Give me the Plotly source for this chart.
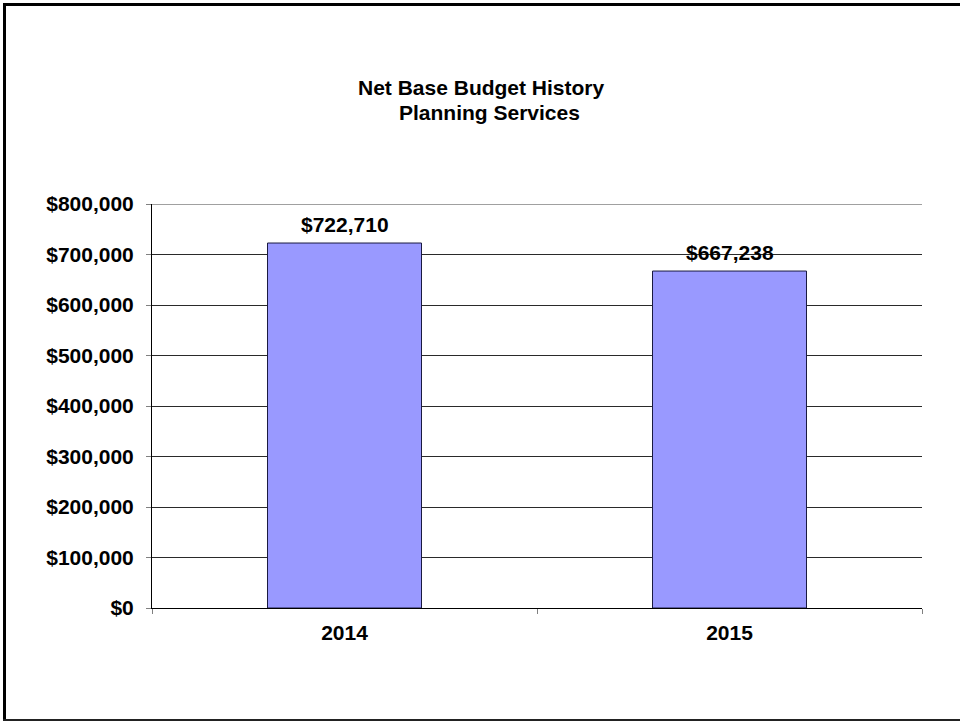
import plotly.graph_objects as go

# Budget data
years = ["2014", "2015"]
budget = [722710, 667238]
y_ticks = [0, 100000, 200000, 300000, 400000, 500000, 600000, 700000, 800000]
title_lines = ["Net Base Budget History", "Planning Services"]

W, H = 960, 721
L, R, T, B = 152, 38, 204, 113
PW, PH = W - L - R, H - T - B


def px_x(x):
    return (x - L) / PW


def px_y(y):
    return (H - B - y) / PH


FONT = "Liberation Sans, Arial, sans-serif"
FS = 21

fig = go.Figure()
fig.add_trace(go.Bar(
    x=years,
    y=budget,
    marker=dict(color="#9999FF", line=dict(color="#1a1a40", width=1)),
    width=0.4,
    hoverinfo="x+y",
))

annotations = []
# value labels above each bar (category index on the x axis)
for i, v in enumerate(budget):
    annotations.append(dict(
        x=i, y=v, xref="x", yref="y", text=f"<b>${v:,}</b>",
        showarrow=False, xanchor="center", yanchor="bottom", yshift=5,
        font=dict(family=FONT, size=FS, color="#000"),
    ))

# two-line chart title
annotations.append(dict(
    x=px_x(481.5), y=px_y(88), xref="paper", yref="paper",
    text=f"<b>{title_lines[0]}</b>", showarrow=False,
    xanchor="center", yanchor="middle",
    font=dict(family=FONT, size=FS, color="#000"),
))
annotations.append(dict(
    x=px_x(489), y=px_y(112), xref="paper", yref="paper",
    text=f"<b>{title_lines[1]}</b>", showarrow=False,
    xanchor="center", yanchor="middle",
    font=dict(family=FONT, size=FS, color="#000"),
))

shapes = [
    # page frame: left, top, bottom
    dict(type="line", xref="paper", yref="paper",
         x0=px_x(4.5), x1=px_x(4.5), y0=px_y(3), y1=px_y(721),
         line=dict(color="#000", width=3)),
    dict(type="line", xref="paper", yref="paper",
         x0=px_x(3), x1=px_x(962), y0=px_y(4.5), y1=px_y(4.5),
         line=dict(color="#000", width=3)),
    dict(type="line", xref="paper", yref="paper",
         x0=px_x(3), x1=px_x(962), y0=px_y(720), y1=px_y(720),
         line=dict(color="#222", width=2)),
    # top gridline of the plot area
    dict(type="line", xref="paper", yref="y",
         x0=0, x1=1, y0=y_ticks[-1], y1=y_ticks[-1],
         line=dict(color="#a0a0a0", width=2), layer="below"),
]

fig.update_layout(
    width=W, height=H,
    margin=dict(l=L, r=R, t=T, b=B),
    paper_bgcolor="white", plot_bgcolor="white",
    showlegend=False,
    bargap=0.6,
    annotations=annotations,
    shapes=shapes,
    font=dict(family=FONT, size=FS, color="#000"),
)
fig.update_xaxes(
    type="category",
    range=[-0.5, 1.5],
    showline=True, linecolor="#000", linewidth=1,
    ticks="outside", tickson="boundaries", ticklen=5, tickcolor="#808080",
    tickfont=dict(family=FONT, size=FS, color="#000"),
    tickprefix="<b>", ticksuffix="</b>",
    showgrid=False,
    ticklabelstandoff=6,
)
fig.update_yaxes(
    range=[0, 800000],
    tickvals=y_ticks,
    ticktext=[f"<b>${v:,}</b>" for v in y_ticks],
    showline=True, linecolor="#000", linewidth=1,
    ticks="outside", ticklen=5, tickcolor="#808080",
    tickfont=dict(family=FONT, size=FS, color="#000"),
    showgrid=True, gridcolor="#2a2a2a", gridwidth=1,
    zeroline=False,
    ticklabelstandoff=8,
)

fig.write_html("out.html")
